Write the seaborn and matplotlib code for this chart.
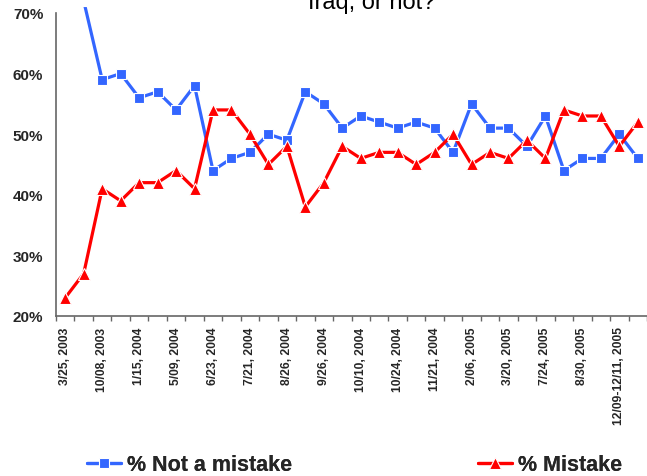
import matplotlib
matplotlib.use("Agg")
import matplotlib.pyplot as plt
import numpy as np
import pandas as pd
import seaborn as sns
from matplotlib.lines import Line2D
from matplotlib.ticker import FixedLocator, FuncFormatter

# poll results, one value per survey (32 surveys, 3/2003 - 12/2005)
not_mistake = [75, 72, 59, 60, 56, 57, 54, 58, 44, 46, 47, 50, 49, 57, 55, 51,
               53, 52, 51, 52, 51, 47, 55, 51, 51, 48, 53, 44, 46, 46, 50, 46]
mistake = [23, 27, 41, 39, 42, 42, 44, 41, 54, 54, 50, 45, 48, 38, 42, 48,
           46, 47, 47, 45, 47, 50, 45, 47, 46, 49, 46, 54, 53, 53, 48, 52]

# only every other survey date is labelled on the axis
date_labels = ["3/25, 2003", "10/08, 2003", "1/15, 2004", "5/09, 2004",
               "6/23, 2004", "7/21, 2004", "8/26, 2004", "9/26, 2004",
               "10/10, 2004", "10/24, 2004", "11/21, 2004", "2/06, 2005",
               "3/20, 2005", "7/24, 2005", "8/30, 2005", "12/09-12/11, 2005"]

series_names = ["% Not a mistake", "% Mistake"]
title_text = "Iraq, or not?"

BLUE = "#3366FF"
RED = "#FF0000"

sns.set_theme(style="white")
plt.rcParams["font.family"] = ["Liberation Sans", "DejaVu Sans"]

poll = np.arange(len(mistake))
df = pd.DataFrame({"poll": poll, "not_mistake": not_mistake, "mistake": mistake})

fig = plt.figure(figsize=(6.47, 4.77), dpi=100)
ax = fig.add_axes([56 / 647, 1 - 317 / 477, 1 - 56 / 647, (317 - 7.9) / 477])

sns.lineplot(data=df, x="poll", y="not_mistake", ax=ax, color=BLUE,
             linewidth=2.3, marker="s", markersize=7.5,
             markeredgecolor="white", markeredgewidth=0.8)
sns.lineplot(data=df, x="poll", y="mistake", ax=ax, color=RED,
             linewidth=2.3, marker="^", markersize=8,
             markeredgecolor="white", markeredgewidth=0.8)

ax.set_xlim(-0.5, len(mistake) - 0.5)
ax.set_ylim(20, 71)
ax.set_xlabel("")
ax.set_ylabel("")

for side in ["top", "right"]:
    ax.spines[side].set_visible(False)
for side in ["left", "bottom"]:
    ax.spines[side].set_color("#666666")
    ax.spines[side].set_linewidth(1.2)
ax.spines["left"].set_bounds(20, 70)

ax.set_yticks(np.arange(20, 71, 10))
ax.yaxis.set_major_formatter(FuncFormatter(lambda v, _: f"{v:.0f}%"))
ax.tick_params(axis="y", direction="out", length=3.6, width=1.0,
               color="#666666", pad=5.5, labelsize=11)
for lbl in ax.get_yticklabels():
    lbl.set_fontweight("bold")

ax.set_xticks(poll[::2])
ax.set_xticklabels(date_labels, rotation=90, fontsize=8.7, fontweight="bold")
ax.xaxis.set_minor_locator(FixedLocator(np.arange(-0.5, len(mistake), 1)))
ax.tick_params(axis="x", which="major", length=0, pad=7.5)
ax.tick_params(axis="x", which="minor", direction="out", length=3.6,
               width=1.0, color="#666666", bottom=True)

# title's first line sits above the canvas, only its last line shows
fig.text(372 / 647, 1 - 9.5 / 477, title_text, ha="center", va="baseline",
         fontsize=17, color="black")

h_blue = Line2D([], [], color=BLUE, lw=2.3, marker="s", markersize=7.5,
                markeredgecolor="white", markeredgewidth=0.8)
h_red = Line2D([], [], color=RED, lw=2.3, marker="^", markersize=8,
               markeredgecolor="white", markeredgewidth=0.8)
for handle, name, x0 in [(h_blue, series_names[0], 87), (h_red, series_names[1], 478)]:
    leg = fig.legend(handles=[handle], labels=[name], loc="center left",
                     bbox_to_anchor=(x0 / 647, 1 - 466 / 477), frameon=False,
                     borderpad=0, borderaxespad=0, handlelength=1.6,
                     handletextpad=0.25, prop={"size": 15.5, "weight": "bold"})
    fig.add_artist(leg)

fig.savefig("out.png", dpi=100)
